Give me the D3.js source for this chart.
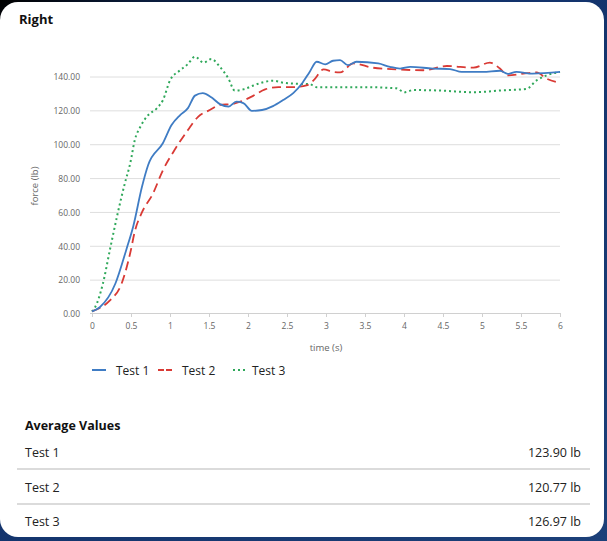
<!DOCTYPE html>
<html>
<head>
<meta charset="utf-8">
<script src="https://cdn.jsdelivr.net/npm/d3@7"></script>
<style>
  html, body { margin: 0; padding: 0; background: #12326b; }
  svg { display: block; }
  text { font-family: "Open Sans", "Noto Sans", sans-serif; }
</style>
</head>
<body>
<svg id="chart" width="607" height="541"></svg>
<script>
// ---- data ----
const seriesNames = ["Test 1", "Test 2", "Test 3"];
const test1Time  = [0, 0.1, 0.3, 0.44, 0.53, 0.64, 0.72, 0.91, 1.02, 1.13, 1.23, 1.32, 1.42, 1.53, 1.64, 1.75, 1.85, 1.94, 2.05, 2.18, 2.32, 2.45, 2.58, 2.69, 2.79, 2.88, 2.99, 3.09, 3.18, 3.28, 3.39, 3.67, 3.82, 3.95, 4.08, 4.37, 4.59, 4.74, 4.85, 5.01, 5.23, 5.33, 5.44, 5.65, 6.0];
const test1Force = [1.5, 4, 18, 38, 52, 75, 88, 101, 111.6, 117.5, 121.6, 129, 130.5, 128, 124, 122.5, 125.4, 124.6, 120, 120.5, 122.8, 126.4, 130.5, 136, 143, 149, 147.5, 149.6, 150, 147, 149, 148, 146, 145, 146, 145, 144.7, 143, 143, 143, 143.7, 141.8, 143, 142, 143];
const test2Time  = [0, 0.1, 0.23, 0.38, 0.49, 0.55, 0.64, 0.78, 0.91, 1.06, 1.23, 1.36, 1.51, 1.64, 1.79, 1.90, 2.07, 2.22, 2.39, 2.58, 2.75, 2.84, 2.97, 3.09, 3.18, 3.35, 3.6, 3.9, 4.25, 4.55, 4.89, 5.10, 5.23, 5.33, 5.53, 5.70, 5.83, 6.0];
const test2Force = [1.5, 3.5, 8, 18, 36, 49, 60, 71, 85, 97, 108.7, 116.5, 120.5, 123.5, 124, 125.4, 129, 132.7, 134, 134, 135, 138, 144.5, 143, 142.7, 148, 145.5, 144.5, 144, 146.5, 145.5, 148.5, 145, 141, 142, 142.7, 139, 136.6];
const test3Time  = [0, 0.04, 0.14, 0.23, 0.32, 0.42, 0.49, 0.55, 0.62, 0.72, 0.83, 0.91, 1.0, 1.13, 1.23, 1.32, 1.43, 1.53, 1.64, 1.75, 1.83, 1.94, 2.07, 2.2, 2.32, 2.45, 2.62, 2.79, 2.88, 3.09, 3.52, 3.9, 4.01, 4.12, 4.46, 4.89, 5.23, 5.57, 5.70, 5.83, 6.0];
const test3Force = [1.5, 4, 18, 38, 57.5, 77, 89, 103, 110.6, 117.5, 121.5, 126.4, 138, 144, 147.7, 152, 148.5, 150.6, 146, 139, 132, 132.7, 135, 137, 137.8, 136.6, 136, 135.8, 134, 134, 134, 133.3, 131, 132.3, 132, 131, 132, 133, 138, 141, 143];
const yTicks = [0, 20, 40, 60, 80, 100, 120, 140];
const xTicks = [0, 0.5, 1, 1.5, 2, 2.5, 3, 3.5, 4, 4.5, 5, 5.5, 6];
const averageValues = [123.90, 120.77, 126.97];

// ---- styles ----
const colors = ["#3f7cc4", "#d93a35", "#2fa85a"];
const dashes = [null, "9,5", "2,3"];

const svg = d3.select("#chart");
const defs = svg.append("defs");
const grad = defs.append("linearGradient").attr("id", "bg")
  .attr("x1", "0").attr("y1", "0").attr("x2", "1").attr("y2", "1");
grad.append("stop").attr("offset", "0%").attr("stop-color", "#000000");
grad.append("stop").attr("offset", "12%").attr("stop-color", "#0a1c3c");
grad.append("stop").attr("offset", "40%").attr("stop-color", "#12326b");
grad.append("stop").attr("offset", "100%").attr("stop-color", "#1c4079");
svg.append("rect").attr("width", 607).attr("height", 541).attr("fill", "url(#bg)");

// card
svg.append("rect").attr("x", 0).attr("y", 2).attr("width", 604).attr("height", 535)
  .attr("rx", 18).attr("fill", "#ffffff");

svg.append("text").attr("x", 19).attr("y", 24).attr("font-size", 13)
  .attr("font-weight", "bold").attr("fill", "#111").text("Right");

const x = d3.scaleLinear().domain([0, 6]).range([92, 560]);
const y = d3.scaleLinear().domain([0, 140]).range([314, 77]);

// grid lines
svg.append("g").selectAll("line").data(yTicks.filter(d => d > 0)).join("line")
  .attr("x1", 90).attr("x2", 560)
  .attr("y1", d => y(d)).attr("y2", d => y(d))
  .attr("stroke", "#dedede").attr("stroke-width", 1);

// y axis labels
const yAxis = d3.axisLeft(y).tickValues(yTicks).tickFormat(d3.format(".2f")).tickSize(0).tickPadding(0);
const gy = svg.append("g").attr("transform", "translate(80,0)").call(yAxis);
gy.select(".domain").remove();
gy.selectAll("text").attr("font-size", 8.5).attr("fill", "#666")
  .style("font-family", '"Open Sans", sans-serif');

// x axis
const xAxis = d3.axisBottom(x).tickValues(xTicks).tickFormat(d => String(d)).tickSize(4).tickPadding(6);
const gx = svg.append("g").attr("transform", "translate(0,313)").call(xAxis);
gx.select(".domain").attr("stroke", "#d0d0d0").attr("d", "M90,0.5H560.5");
gx.selectAll(".tick line").attr("stroke", "#d0d0d0");
gx.selectAll("text").attr("font-size", 8.5).attr("fill", "#666")
  .style("font-family", '"Open Sans", sans-serif');

// axis titles
svg.append("text").attr("transform", "translate(38,186) rotate(-90)")
  .attr("text-anchor", "middle").attr("font-size", 9.5).attr("fill", "#666").text("force (lb)");
svg.append("text").attr("x", 326).attr("y", 351)
  .attr("text-anchor", "middle").attr("font-size", 9.5).attr("fill", "#666").text("time (s)");

// lines
const seriesData = [
  test1Time.map((t, i) => [t, test1Force[i]]),
  test2Time.map((t, i) => [t, test2Force[i]]),
  test3Time.map((t, i) => [t, test3Force[i]])
];
const line = d3.line().x(d => x(d[0])).y(d => y(d[1])).curve(d3.curveMonotoneX);
// draw green first, then red, then blue on top
[2, 1, 0].forEach(i => {
  svg.append("path").datum(seriesData[i])
    .attr("d", line).attr("fill", "none")
    .attr("stroke", colors[i]).attr("stroke-width", i === 2 ? 2 : 1.8)
    .attr("stroke-dasharray", dashes[i])
    .attr("stroke-linejoin", "round");
});

// legend
const legendX = [92, 158, 233];
const lg = svg.append("g");
seriesNames.forEach((name, i) => {
  lg.append("line").attr("x1", legendX[i]).attr("x2", legendX[i] + (i === 2 ? 12 : 14))
    .attr("y1", 370).attr("y2", 370)
    .attr("stroke", colors[i]).attr("stroke-width", 2)
    .attr("stroke-dasharray", i === 1 ? "6,2" : (i === 2 ? "2,3" : null));
  lg.append("text").attr("x", legendX[i] + (i === 2 ? 19 : 24)).attr("y", 374.5)
    .attr("font-size", 12).attr("fill", "#222").text(name);
});

// average values table
svg.append("text").attr("x", 25).attr("y", 430).attr("font-size", 12.5)
  .attr("font-weight", "bold").attr("fill", "#111").text("Average Values");
const rowY = [457, 492, 526];
seriesNames.forEach((name, i) => {
  svg.append("text").attr("x", 25).attr("y", rowY[i]).attr("font-size", 12.5)
    .attr("fill", "#222").text(name);
  svg.append("text").attr("x", 581).attr("y", rowY[i]).attr("font-size", 12.5)
    .attr("text-anchor", "end").attr("fill", "#222")
    .text(d3.format(".2f")(averageValues[i]) + " lb");
  if (i < seriesNames.length - 1) {
    svg.append("line").attr("x1", 17).attr("x2", 590)
      .attr("y1", rowY[i] + 12).attr("y2", rowY[i] + 12)
      .attr("stroke", "#cfcfcf").attr("stroke-width", 1.3);
  }
});
</script>
</body>
</html>
